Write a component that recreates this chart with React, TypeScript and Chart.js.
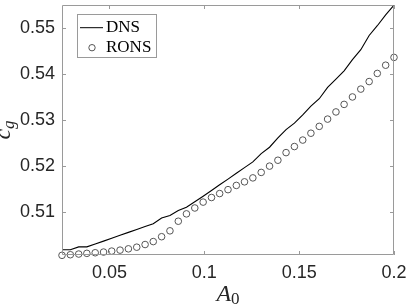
import React, { useEffect, useRef } from "react";
import { Chart, registerables } from "chart.js";

Chart.register(...registerables);

const a0Values = [
  0.025, 0.0294, 0.0338, 0.0381, 0.0425, 0.0469, 0.0512, 0.0556, 0.06, 0.0644,
  0.0688, 0.0731, 0.0775, 0.0819, 0.0863, 0.0906, 0.095, 0.0994, 0.1038, 0.1081,
  0.1125, 0.1169, 0.1212, 0.1256, 0.13, 0.1344, 0.1388, 0.1431, 0.1475, 0.1519,
  0.1562, 0.1606, 0.165, 0.1694, 0.1737, 0.1781, 0.1825, 0.1869, 0.1912, 0.1956,
  0.2,
];

const dnsCg = [
  0.50173, 0.50173, 0.50237, 0.50237, 0.50301, 0.50362, 0.50426, 0.50488, 0.50552, 0.50616,
  0.50678, 0.50742, 0.50864, 0.50919, 0.5103, 0.511, 0.51217, 0.51339, 0.51465, 0.51588,
  0.51712, 0.51838, 0.51962, 0.52085, 0.52267, 0.52405, 0.52608, 0.52789, 0.52928, 0.53109,
  0.53301, 0.53461, 0.53706, 0.53887, 0.54068, 0.54313, 0.54527, 0.54836, 0.55049, 0.55284,
  0.55497,
];

const ronsCg = [
  0.50053, 0.50066, 0.50081, 0.50096, 0.50109, 0.50124, 0.50145, 0.50166, 0.50194, 0.5023,
  0.50288, 0.50352, 0.50458, 0.50586, 0.50795, 0.50955, 0.51083, 0.51211, 0.51311, 0.51397,
  0.51482, 0.51574, 0.51652, 0.51738, 0.51857, 0.51994, 0.52122, 0.52288, 0.5242, 0.52561,
  0.5271, 0.52859, 0.53017, 0.53173, 0.53337, 0.53499, 0.5367, 0.53834, 0.54011, 0.5419,
  0.5436,
];

const xTicks = [0.05, 0.1, 0.15, 0.2];
const yTicks = [0.51, 0.52, 0.53, 0.54, 0.55];
const seriesNames = ["DNS", "RONS"];

const AXIS_COLOR = "#9a9a9a";
const TEXT_COLOR = "#262626";
const SERIF = "'Liberation Serif', 'DejaVu Serif', serif";
const SANS = "'Liberation Sans', Arial, Helvetica, sans-serif";

const decorPlugin = {
  id: "decor",
  afterDraw(chart: any) {
    const ctx = chart.ctx;
    const { left, right, top, bottom } = chart.chartArea;
    const xs = chart.scales.x;
    const ys = chart.scales.y;
    ctx.save();
    // frame
    ctx.strokeStyle = AXIS_COLOR;
    ctx.lineWidth = 1;
    ctx.beginPath();
    ctx.rect(left + 0.5, top + 0.5, right - left - 1, bottom - top - 1);
    ctx.stroke();
    // inward ticks
    const tl = 4;
    ctx.beginPath();
    xTicks.forEach((v) => {
      const px = Math.round(xs.getPixelForValue(v)) + 0.5;
      ctx.moveTo(px, bottom);
      ctx.lineTo(px, bottom - tl);
      ctx.moveTo(px, top);
      ctx.lineTo(px, top + tl);
    });
    yTicks.forEach((v) => {
      const py = Math.round(ys.getPixelForValue(v)) + 0.5;
      ctx.moveTo(left, py);
      ctx.lineTo(left + tl, py);
      ctx.moveTo(right, py);
      ctx.lineTo(right - tl, py);
    });
    ctx.stroke();

    // x title A_0
    ctx.fillStyle = TEXT_COLOR;
    ctx.textBaseline = "alphabetic";
    ctx.textAlign = "left";
    const bigFont = `italic 24px ${SERIF}`;
    const subFont = `17px ${SERIF}`;
    ctx.font = bigFont;
    const wA = ctx.measureText("A").width;
    ctx.font = subFont;
    const w0 = ctx.measureText("0").width;
    const cx = (left + right) / 2;
    const startX = cx - (wA + w0) / 2;
    ctx.font = bigFont;
    ctx.fillText("A", startX, 300.5);
    ctx.font = subFont;
    ctx.fillText("0", startX + wA, 303.5);

    // y title c_g
    ctx.save();
    ctx.translate(10, (top + bottom) / 2);
    ctx.rotate(-Math.PI / 2);
    const cFont = `italic 24px ${SERIF}`;
    const gFont = `italic 17px ${SERIF}`;
    ctx.font = cFont;
    const wc = ctx.measureText("c").width;
    ctx.font = gFont;
    const wg = ctx.measureText("g").width;
    const sx = -(wc + wg) / 2;
    ctx.font = cFont;
    ctx.fillText("c", sx, 0);
    ctx.font = gFont;
    ctx.fillText("g", sx + wc, 4);
    ctx.restore();

    // legend
    const lx = left + 15;
    const ly = top + 9;
    const lw = 80;
    const lh = 44;
    ctx.fillStyle = "#ffffff";
    ctx.fillRect(lx, ly, lw, lh);
    ctx.strokeStyle = AXIS_COLOR;
    ctx.lineWidth = 1;
    ctx.strokeRect(lx + 0.5, ly + 0.5, lw - 1, lh - 1);
    ctx.strokeStyle = "#000000";
    ctx.beginPath();
    ctx.moveTo(lx + 3, ly + 13.7);
    ctx.lineTo(lx + 26, ly + 13.7);
    ctx.stroke();
    ctx.strokeStyle = "#555555";
    ctx.beginPath();
    ctx.arc(lx + 15, ly + 33.7, 3.2, 0, Math.PI * 2);
    ctx.stroke();
    ctx.fillStyle = "#000000";
    ctx.font = `17px ${SERIF}`;
    ctx.fillText(seriesNames[0], lx + 29, ly + 17.7);
    ctx.fillText(seriesNames[1], lx + 29, ly + 38.3);
    ctx.restore();
  },
};

export default function App() {
  const canvasRef = useRef<HTMLCanvasElement | null>(null);

  useEffect(() => {
    document.body.style.margin = "0";
    const canvas = canvasRef.current;
    if (!canvas) return;
    const chart = new Chart(canvas, {
      type: "scatter",
      data: {
        datasets: [
          {
            label: seriesNames[0],
            data: a0Values.map((x, i) => ({ x, y: dnsCg[i] })),
            showLine: true,
            borderColor: "#000000",
            borderWidth: 1.1,
            pointRadius: 0,
            fill: false,
            tension: 0,
          },
          {
            label: seriesNames[1],
            data: a0Values.map((x, i) => ({ x, y: ronsCg[i] })),
            showLine: false,
            pointStyle: "circle",
            pointRadius: 3.3,
            borderColor: "#555555",
            borderWidth: 1,
            backgroundColor: "rgba(0,0,0,0)",
            clip: false as any,
          },
        ],
      },
      options: {
        animation: false,
        responsive: false,
        devicePixelRatio: 1,
        layout: { padding: { left: 0, right: 13, top: 0, bottom: 0 } },
        plugins: {
          legend: { display: false },
          tooltip: { enabled: false },
        },
        scales: {
          x: {
            type: "linear",
            min: 0.025,
            max: 0.2,
            grid: { display: false, drawTicks: false },
            border: { display: false },
            afterBuildTicks: (axis: any) => {
              axis.ticks = xTicks.map((v) => ({ value: v }));
            },
            afterFit: (axis: any) => {
              axis.height = 51;
              axis.paddingLeft = 0;
              axis.paddingRight = 0;
            },
            ticks: {
              padding: 7,
              color: TEXT_COLOR,
              font: { family: SANS, size: 18 },
              maxRotation: 0,
              callback: (v: any) => String(Number(v)),
            },
          },
          y: {
            type: "linear",
            min: 0.5006,
            max: 0.555,
            grid: { display: false, drawTicks: false },
            border: { display: false },
            afterBuildTicks: (axis: any) => {
              axis.ticks = yTicks.map((v) => ({ value: v }));
            },
            afterFit: (axis: any) => {
              axis.width = 62;
              axis.paddingTop = 0;
              axis.paddingBottom = 0;
            },
            ticks: {
              padding: 7,
              color: TEXT_COLOR,
              font: { family: SANS, size: 18 },
              callback: (v: any) => Number(v).toFixed(2),
            },
          },
        },
      },
      plugins: [decorPlugin],
    });
    return () => chart.destroy();
  }, []);

  return (
    <div style={{ width: 407, height: 306 }}>
      <canvas ref={canvasRef} width={407} height={306} style={{ display: "block" }} />
    </div>
  );
}
